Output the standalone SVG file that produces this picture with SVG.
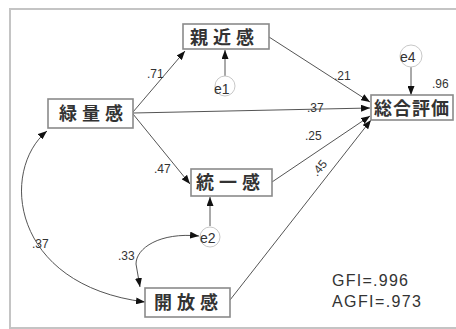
<svg xmlns="http://www.w3.org/2000/svg" width="456" height="329" viewBox="0 0 456 329">
<defs>
<marker id="ah" viewBox="0 0 9 7" refX="9" refY="3.5" markerWidth="9" markerHeight="7" markerUnits="userSpaceOnUse" orient="auto-start-reverse">
<path d="M0,0 L9,3.5 L0,7 z" fill="#111"/>
</marker>
<style>
.box{fill:#fff;stroke:#8a8a8a;stroke-width:1.6}
.jp{font-family:"Noto Sans CJK JP","Noto Sans CJK SC",sans-serif;font-size:18px;font-weight:bold;fill:#333;letter-spacing:5px}
.jp4{letter-spacing:1px}
.err{fill:#fff;stroke:#c8c8c8;stroke-width:1}
.et{font-family:"Liberation Sans",sans-serif;font-size:14px;fill:#333}
.lbl{font-family:"Liberation Sans",sans-serif;font-size:12px;fill:#333}
.fit{font-family:"Liberation Sans",sans-serif;font-size:16px;fill:#333}
.c{fill:none;stroke:#555;stroke-width:1}
</style>
</defs>
<rect x="0" y="0" width="456" height="329" fill="#fff"/>
<rect x="10" y="9" width="450" height="319" fill="none" stroke="#c4c4c4" stroke-width="2"/>
<g id="connectors">
<path class="c" d="M133,112 L185,51" marker-end="url(#ah)"/>
<path class="c" d="M133,113 L370,108" marker-end="url(#ah)"/>
<path class="c" d="M133,114 L190,184" marker-end="url(#ah)"/>
<path class="c" d="M269,37 L370,102" marker-end="url(#ah)"/>
<path class="c" d="M272,182 L370,116" marker-end="url(#ah)"/>
<path class="c" d="M230,300 L371,120" marker-end="url(#ah)"/>
<path class="c" d="M225,76 L225,50" marker-end="url(#ah)"/>
<path class="c" d="M411,67 L411,95" marker-end="url(#ah)"/>
<path class="c" d="M210,226 L210,197" marker-end="url(#ah)"/>
<path class="c" d="M47,131 C0,170 10,285 145,302" marker-start="url(#ah)" marker-end="url(#ah)"/>
<path class="c" d="M199,236 C160,232 136,248 136,264 L140,287" marker-start="url(#ah)" marker-end="url(#ah)"/>
</g>
<g id="labels">
<text class="lbl" x="147" y="78">.71</text>
<text class="lbl" x="307" y="112">.37</text>
<text class="lbl" x="334" y="80">.21</text>
<text class="lbl" x="305" y="140">.25</text>
<text class="lbl" x="154" y="173">.47</text>
<text class="lbl" x="432" y="88">.96</text>
<text class="lbl" x="32" y="248">.37</text>
<text class="lbl" x="118" y="260">.33</text>
<text class="lbl" transform="translate(317,177) rotate(-50)">.45</text>
</g>
<g id="n-shinkin"><rect class="box" x="183" y="24" width="86" height="25"/><text class="jp" x="190" y="44">親近感</text></g>
<g id="n-sogo"><rect class="box" x="371" y="95" width="82" height="25"/><text class="jp jp4" x="374" y="115">総合評価</text></g>
<g id="n-ryokuryo"><rect class="box" x="48" y="99" width="85" height="29"/><text class="jp" x="59" y="120">緑量感</text></g>
<g id="n-toitsu"><rect class="box" x="191" y="169" width="81" height="27"/><text class="jp" x="196" y="189">統一感</text></g>
<g id="n-kaiho"><rect class="box" x="145" y="288" width="85" height="29"/><text class="jp" x="154" y="309">開放感</text></g>
<g id="e1"><circle class="err" cx="225" cy="86" r="10"/><text class="et" x="214" y="94">e1</text></g>
<g id="e2"><circle class="err" cx="210" cy="237" r="10"/><text class="et" x="200" y="243">e2</text></g>
<g id="e4"><circle class="err" cx="411" cy="56" r="11"/><text class="et" x="400" y="62">e4</text></g>
<g id="fit">
<text class="fit" x="332" y="286" textLength="76">GFI=.996</text>
<text class="fit" x="332" y="307" textLength="89">AGFI=.973</text>
</g>
</svg>
